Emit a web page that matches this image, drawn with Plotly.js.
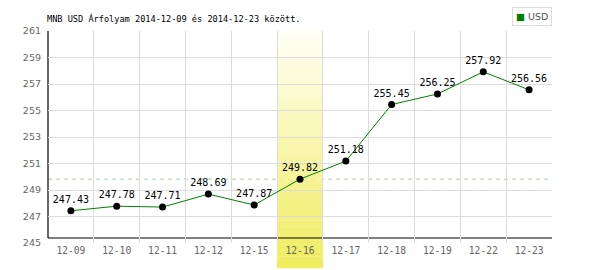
<!DOCTYPE html>
<html>
<head>
<meta charset="utf-8">
<script src="https://cdn.plot.ly/plotly-3.0.1.min.js"></script>
<style>html,body{margin:0;padding:0;background:#fff;}#chart{width:600px;height:270px;}</style>
</head>
<body>
<div id="chart"></div>
<script>
var dates = ["12-09","12-10","12-11","12-12","12-15","12-16","12-17","12-18","12-19","12-22","12-23"];
var rates = [247.43, 247.78, 247.71, 248.69, 247.87, 249.82, 251.18, 255.45, 256.25, 257.92, 256.56];
var rateLabels = ["247.43","247.78","247.71","248.69","247.87","249.82","251.18","255.45","256.25","257.92","256.56"];
var yTicks = [245, 247, 249, 251, 253, 255, 257, 259, 261];
var seriesName = "USD";
var chartTitle = "MNB USD Árfolyam 2014-12-09 és 2014-12-23 között.";
var highlightIndex = 5;

var shapes = [];
shapes.push({type:'line', xref:'paper', x0:0, x1:1, yref:'y', y0:rates[highlightIndex], y1:rates[highlightIndex],
  line:{color:'#a0cfa0', width:1, dash:'4px,4px'}, layer:'between'});
var nStrips = 40, bandTop = 1, bandBot = -25/212;
var bx0 = highlightIndex/dates.length, bx1 = (highlightIndex+1)/dates.length;
function lerp(a,b,t){return Math.round(a+(b-a)*t);}
for (var i=0;i<nStrips;i++){
  var t = (i+0.5)/nStrips;
  var r = lerp(255,240,t), g = lerp(255,236,t), b = lerp(246,92,t);
  shapes.push({type:'rect', xref:'paper', x0:bx0, x1:bx1, yref:'paper',
    y0: bandTop-(bandTop-bandBot)*(i+1)/nStrips - 0.001, y1: bandTop-(bandTop-bandBot)*i/nStrips,
    fillcolor:'rgb('+r+','+g+','+b+')', line:{width:0}, layer:'between'});
}
var axY = 5/212;
shapes.push({type:'line', xref:'paper', x0:0, x1:1, yref:'paper', y0:axY, y1:axY, line:{color:'#000', width:1.2}, layer:'between'});
shapes.push({type:'line', xref:'paper', x0:0, x1:0, yref:'paper', y0:axY, y1:1, line:{color:'#000', width:1.2}, layer:'between'});

var trace = {
  x: dates, y: rates, type:'scatter', mode:'lines+markers+text',
  text: rateLabels, textposition:'top center',
  textfont:{family:'DejaVu Sans Mono', size:10, color:'#000'},
  line:{color:'#008000', width:1},
  marker:{color:'#000', size:7},
  cliponaxis:false, showlegend:false, hoverinfo:'x+y', name: seriesName
};

var layout = {
  width:600, height:270,
  margin:{l:48, r:48, t:31, b:27, pad:0},
  paper_bgcolor:'#fff', plot_bgcolor:'#fff',
  showlegend:false,
  title:{text:chartTitle, x:47/600, xanchor:'left', xref:'container', y:1-19/270, yanchor:'middle', yref:'container',
    font:{family:'DejaVu Sans Mono', size:8.6, color:'#000'}},
  xaxis:{type:'category', range:[-0.5,10.5], tickson:'boundaries', showgrid:true, gridcolor:'#dcdcdc', gridwidth:1,
    zeroline:false, showline:false, ticks:'', tickfont:{family:'DejaVu Sans Mono', size:9.6, color:'#666'}, fixedrange:true},
  yaxis:{range:[245,261], tickvals:yTicks, ticktext:yTicks.map(String), showgrid:true, gridcolor:'#dcdcdc', gridwidth:1,
    zeroline:false, showline:false, ticks:'', ticklabelstandoff:6, tickfont:{family:'DejaVu Sans', size:9.5, color:'#666'}, fixedrange:true},
  shapes: shapes,
  annotations:[{xref:'paper', yref:'paper', x:1, y:1+15/212, xanchor:'right', yanchor:'middle', showarrow:false,
    text:'<span style="color:#008000">■</span> '+seriesName,
    font:{family:'DejaVu Sans', size:9.5, color:'#555'}, bgcolor:'#fff', bordercolor:'#dcdcdc', borderwidth:1, borderpad:3}]
};
Plotly.newPlot('chart', [trace], layout, {displayModeBar:false, staticPlot:true});
</script>
</body>
</html>
